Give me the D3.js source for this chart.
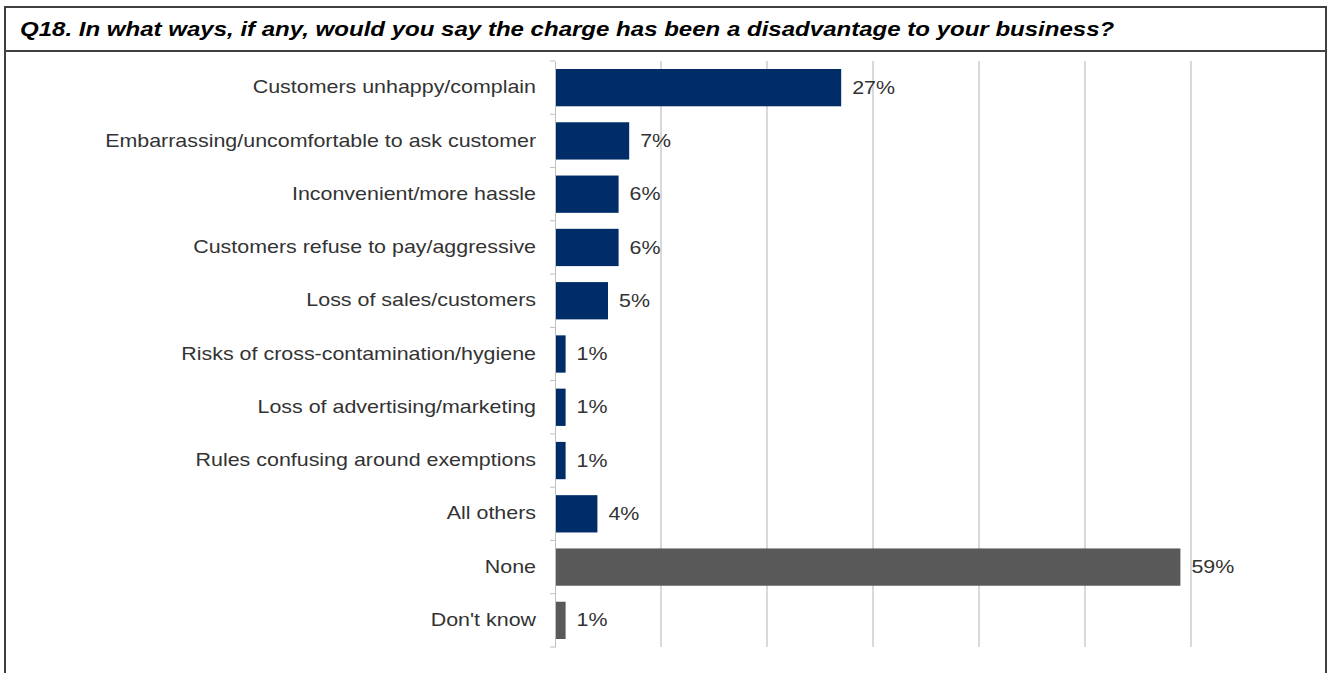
<!DOCTYPE html>
<html>
<head>
<meta charset="utf-8">
<script src="https://cdn.jsdelivr.net/npm/d3@7"></script>
<style>
  html, body { margin: 0; padding: 0; background: #fff; }
  svg { display: block; }
  text { font-family: "Liberation Sans", Arial, sans-serif; }
</style>
</head>
<body>
<svg id="chart" width="1329" height="673"></svg>
<script>
// Survey responses, Q18
const title = "Q18. In what ways, if any, would you say the charge has been a disadvantage to your business?";
const categories = [
  "Customers unhappy/complain",
  "Embarrassing/uncomfortable to ask customer",
  "Inconvenient/more hassle",
  "Customers refuse to pay/aggressive",
  "Loss of sales/customers",
  "Risks of cross-contamination/hygiene",
  "Loss of advertising/marketing",
  "Rules confusing around exemptions",
  "All others",
  "None",
  "Don't know"
];
const values = [27, 7, 6, 6, 5, 1, 1, 1, 4, 59, 1];
const neutralAnswers = ["None", "Don't know"];
const gridTicks = [10, 20, 30, 40, 50, 60];

// Text is drawn slightly widened horizontally
const textStretch = 1.225;
const titleStretch = 1.145;

const svg = d3.select("#chart");

const x = d3.scaleLinear().domain([0, 60]).range([555, 1191]);
const y = d3.scaleBand().domain(categories).range([61, 647])
  .paddingInner(0.3).paddingOuter(0.15);

// Frame around title and chart
const frame = svg.append("g").attr("fill", "none").attr("stroke", "#404040").attr("stroke-width", 2);
frame.append("path").attr("d", "M5,673 V7 H1326 V673");
frame.append("line").attr("x1", 5).attr("x2", 1326).attr("y1", 51).attr("y2", 51);

svg.append("text")
  .attr("transform", `translate(20,36) scale(${titleStretch},1)`)
  .attr("font-size", 21).attr("font-weight", "bold").attr("font-style", "italic")
  .attr("fill", "#000")
  .text(title);

// Vertical gridlines
svg.append("g")
  .selectAll("line")
  .data(gridTicks)
  .join("line")
  .attr("x1", d => x(d)).attr("x2", d => x(d))
  .attr("y1", 61).attr("y2", 647)
  .attr("stroke", "#d9d9d9").attr("stroke-width", 2);

// Bars
svg.append("g")
  .selectAll("rect")
  .data(categories)
  .join("rect")
  .attr("x", x(0))
  .attr("y", d => y(d))
  .attr("width", (d, i) => x(values[i]) - x(0))
  .attr("height", y.bandwidth())
  .attr("fill", d => neutralAnswers.includes(d) ? "#595959" : "#002d67");

// Category axis: labels through d3.axisLeft, ticks at band boundaries
const labelPad = 19;
const axis = svg.append("g")
  .attr("transform", `translate(${x(0)},0)`)
  .call(d3.axisLeft(y).tickSize(0).tickPadding(labelPad));
axis.select(".domain").attr("stroke", "#bfbfbf").attr("stroke-width", 1);
axis.selectAll(".tick text")
  .attr("x", -labelPad / textStretch)
  .attr("transform", `scale(${textStretch},1)`)
  .attr("font-size", 17.5)
  .attr("font-family", "'Liberation Sans', Arial, sans-serif")
  .attr("fill", "#333");

const boundaries = categories.map(d => y(d) - y.step() * y.paddingInner() / 2)
  .concat([y(categories[categories.length - 1]) + y.bandwidth() + y.step() * y.paddingInner() / 2]);
axis.append("g")
  .selectAll("line")
  .data(boundaries)
  .join("line")
  .attr("x1", -5).attr("x2", 0)
  .attr("y1", d => d).attr("y2", d => d)
  .attr("stroke", "#bfbfbf");

// Value labels
svg.append("g")
  .selectAll("text")
  .data(categories)
  .join("text")
  .attr("transform", (d, i) =>
    `translate(${x(values[i]) + 11},${y(d) + y.bandwidth() / 2}) scale(${textStretch},1)`)
  .attr("dy", "0.35em")
  .attr("font-size", 17.5)
  .attr("fill", "#333")
  .text((d, i) => values[i] + "%");
</script>
</body>
</html>
